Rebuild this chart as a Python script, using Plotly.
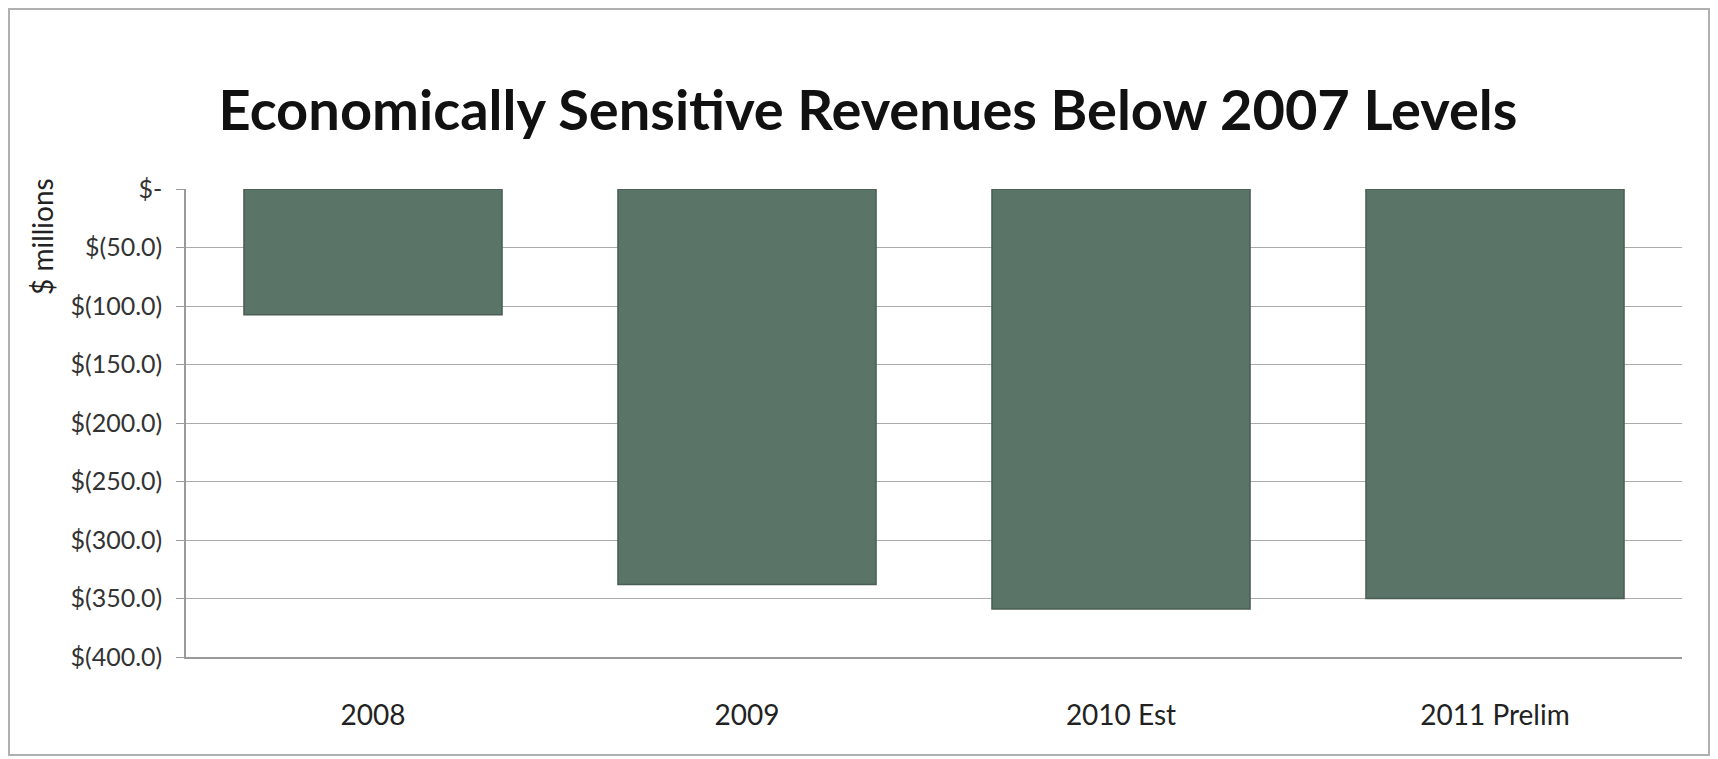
import plotly.graph_objects as go

categories = ["2008", "2009", "2010 Est", "2011 Prelim"]
values = [-107.5, -338.0, -359.0, -350.0]
tick_vals = [0, -50, -100, -150, -200, -250, -300, -350, -400]
tick_text = ["$-", "$(50.0)", "$(100.0)", "$(150.0)", "$(200.0)", "$(250.0)", "$(300.0)", "$(350.0)", "$(400.0)"]

W, H = 1718, 759
ml, mr, mt, mb = 186, 36, 189, 102

fig = go.Figure()
fig.add_trace(go.Bar(
    x=categories, y=values,
    marker=dict(color="#5a7467", line=dict(color="#4a5e54", width=1.5)),
    width=0.69,
))

font_family = "Lato, 'Open Sans', sans-serif"
fig.update_layout(
    width=W, height=H,
    margin=dict(l=ml, r=mr, t=mt, b=mb),
    paper_bgcolor="white", plot_bgcolor="white",
    showlegend=False,
    title=dict(text="<b>Economically Sensitive Revenues Below 2007 Levels</b>",
               x=868 / W, xanchor="center", y=1 - 110 / H, yanchor="middle",
               font=dict(family=font_family, size=56, color="#111111")),
    font=dict(family=font_family, size=25, color="#333333"),
)
fig.update_xaxes(
    showgrid=False, showline=True, linecolor="#9a9a9a", linewidth=1.5,
    ticks="", ticklabelstandoff=33, tickfont=dict(size=28, color="#222222"),
)
fig.update_yaxes(
    range=[-400, 0], tickvals=tick_vals, ticktext=tick_text,
    showgrid=True, gridcolor="#ababab", gridwidth=1,
    showline=True, linecolor="#9a9a9a", linewidth=1.5,
    ticks="outside", ticklen=8, tickcolor="#9a9a9a", ticklabelstandoff=9,
    tickfont=dict(size=25, color="#333333"), zeroline=False,
)
pw, ph = W - ml - mr, H - mt - mb
# y-axis title
fig.add_annotation(text="$ millions", textangle=-90, xref="paper", yref="paper",
                   x=(42 - ml) / pw, y=1 - (237 - mt) / ph,
                   showarrow=False, font=dict(family=font_family, size=28, color="#222222"),
                   xanchor="center", yanchor="middle")
# outer chart border
fig.add_shape(type="rect", xref="paper", yref="paper",
              x0=(9 - ml) / pw, x1=(1709 - ml) / pw,
              y0=1 - (755 - mt) / ph, y1=1 - (9 - mt) / ph,
              line=dict(color="#b0b0b0", width=2), layer="below")

fig.write_html("out.html")
